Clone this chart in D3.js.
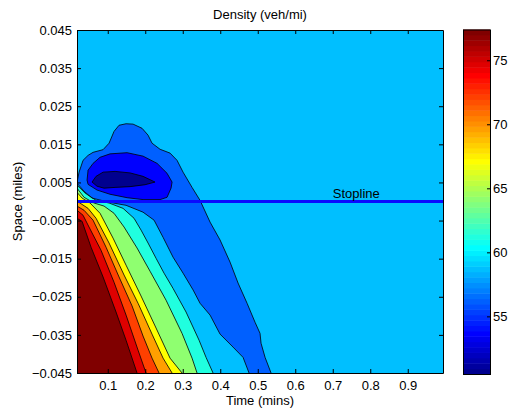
<!DOCTYPE html>
<meta charset="utf-8">
<style>
  body { margin: 0; background: #fff; }
  text { font-family: "Liberation Sans", Arial, sans-serif; }
</style>
<body>
<div id="chart"></div>
<script src="https://d3js.org/d3.v7.min.js"></script>
<script>

// band values (veh/mi); each filled band takes the colour of its value
var levels = [50.7, 53.6, 56.2, 58.7, 61.2, 64.0, 67.0, 69.6, 72.2, 74.7, 77.2];
var colorRange = [50.5, 77.4];
var timeRange = [0.018, 0.994];
var spaceRange = [-0.045, 0.045];
var xTicks = [0.1, 0.2, 0.3, 0.4, 0.5, 0.6, 0.7, 0.8, 0.9];
var yTicks = [-0.045, -0.035, -0.025, -0.015, -0.005, 0.005, 0.015, 0.025, 0.035, 0.045];
var cTicks = [55, 60, 65, 70, 75];
var stopline = 0, stoplineLabelT = 0.7;

// contour lines, [time (mins), space (miles)]
// low density pocket downstream of the stopline
var dipOuter = [[0.018,0.0050],[0.0235,0.0077],[0.0341,0.0108],[0.0475,0.0121],[0.0608,0.0129],[0.0875,0.0136],
  [0.1035,0.0153],[0.1168,0.0184],[0.1301,0.0200],[0.1488,0.0204],[0.1675,0.0203],[0.1915,0.0192],[0.2075,0.0174],
  [0.2181,0.0153],[0.2395,0.0137],[0.2661,0.0127],[0.2848,0.0108],[0.3008,0.0077],[0.3248,0.0037],[0.3461,0.0003],
  [0.3728,-0.0054],[0.3995,-0.0101],[0.4261,-0.0159],[0.4475,-0.0214],[0.4715,-0.0267],[0.4928,-0.0317],
  [0.5061,-0.0346],[0.5088,-0.0372],[0.5195,-0.0409],[0.5355,-0.045]];
var dipInner = [[0.018,0.0048],[0.0368,0.0027],[0.0581,0.0009],[0.1035,-0.0002],[0.1488,-0.0010],[0.1941,-0.0028],
  [0.2235,-0.0049],[0.2475,-0.0094],[0.2741,-0.0146],[0.3008,-0.0188],[0.3275,-0.0232],[0.3461,-0.0267],
  [0.3728,-0.0298],[0.3995,-0.0348],[0.4341,-0.0382],[0.4608,-0.0409],[0.4768,-0.045]];
var dipMid = [[0.0448,0.0056],[0.0475,0.0082],[0.0608,0.0100],[0.0795,0.0116],[0.1061,0.0125],[0.1515,0.0128],
  [0.1941,0.0119],[0.2315,0.0100],[0.2581,0.0074],[0.2715,0.0051],[0.2688,0.0035],[0.2581,0.0011],[0.2395,0.0005],
  [0.1941,0.0005],[0.1515,0.0010],[0.1061,0.0019],[0.0715,0.0030],[0.0475,0.0045]];
var dipCore = [[0.0581,0.0051],[0.0688,0.0066],[0.0875,0.0077],[0.1195,0.0079],[0.1595,0.0075],[0.1941,0.0066],
  [0.2261,0.0051],[0.1995,0.0044],[0.1595,0.0039],[0.1195,0.0037],[0.0901,0.0035],[0.0715,0.0040]];

// queue wedge upstream of the stopline, one line per level
var queue612 = [[0.018,0.0043],[0.0395,0.0022],[0.0688,0.0003],[0.1035,-0.0004],[0.1408,-0.0018],[0.1701,-0.0044],
  [0.1888,-0.0075],[0.2075,-0.0109],[0.2288,-0.0149],[0.2501,-0.0188],[0.2741,-0.0228],[0.3088,-0.0290],
  [0.3435,-0.0364],[0.3621,-0.0409],[0.3808,-0.045]];
var queue640 = [[0.018,0.0035],[0.0368,0.0011],[0.0635,-0.0004],[0.0901,-0.0012],[0.1168,-0.0031],[0.1435,-0.0067],
  [0.1781,-0.0122],[0.2128,-0.0183],[0.2555,-0.0259],[0.2981,-0.0346],[0.3248,-0.0411],[0.3381,-0.045]];
var queue670 = [[0.018,0.0024],[0.0315,0.0009],[0.0528,-0.0004],[0.0795,-0.0031],[0.1141,-0.0096],[0.1488,-0.0167],
  [0.1888,-0.0248],[0.2288,-0.0332],[0.2661,-0.0411],[0.2981,-0.045]];
var queue696 = [[0.018,0.0001],[0.0475,-0.0018],[0.0688,-0.0044],[0.1035,-0.0109],[0.1435,-0.0193],[0.1808,-0.0267],
  [0.2181,-0.0348],[0.2475,-0.0411],[0.2715,-0.045]];
var queue722 = [[0.018,-0.0012],[0.0368,-0.0023],[0.0608,-0.0049],[0.0955,-0.0120],[0.1301,-0.0198],[0.1648,-0.0274],
  [0.1941,-0.0353],[0.2181,-0.0411],[0.2368,-0.045]];
var queue747 = [[0.018,-0.0023],[0.0341,-0.0036],[0.0501,-0.0067],[0.0821,-0.0128],[0.1168,-0.0212],[0.1488,-0.0298],
  [0.1808,-0.0390],[0.2021,-0.045]];
var queue772 = [[0.018,-0.0044],[0.0315,-0.0052],[0.0555,-0.0120],[0.0875,-0.0198],[0.1221,-0.0290],[0.1488,-0.0364],
  [0.1781,-0.045]];
var queueLines = [queue612, queue640, queue670, queue696, queue722, queue747, queue772];

// MATLAB jet(64), i = 1..64
function jet(i) {
  var r = i <= 24 ? 0 : i <= 40 ? (i - 24) / 16 : i <= 55 ? 1 : (72 - i) / 16;
  var g = i <= 8 ? 0 : i <= 24 ? (i - 8) / 16 : i <= 39 ? 1 : i <= 55 ? (56 - i) / 16 : 0;
  var b = i <= 8 ? 0.5 + i / 16 : i <= 23 ? 1 : i <= 39 ? (40 - i) / 16 : 0;
  return d3.rgb(r * 255, g * 255, b * 255).toString();
}
function colorOf(v) {
  var i = Math.floor((v - colorRange[0]) / (colorRange[1] - colorRange[0]) * 64) + 1;
  return jet(Math.max(1, Math.min(64, i)));
}

var width = 510, height = 411;
var plot = {left: 77, right: 443, top: 30, bottom: 373};
var bar = {left: 463, right: 490};

var svg = d3.select("#chart").append("svg")
    .attr("width", width).attr("height", height)
    .style("display", "block");

var x = d3.scaleLinear().domain(timeRange).range([plot.left, plot.right]);
var y = d3.scaleLinear().domain(spaceRange).range([plot.bottom, plot.top]);
var line = d3.line().x(function(d) { return x(d[0]); }).y(function(d) { return y(d[1]); });
var ring = d3.line().x(function(d) { return x(d[0]); }).y(function(d) { return y(d[1]); })
    .curve(d3.curveLinearClosed);

svg.append("clipPath").attr("id", "clip").append("rect")
    .attr("x", plot.left).attr("y", plot.top)
    .attr("width", plot.right - plot.left).attr("height", plot.bottom - plot.top);

var g = svg.append("g").attr("clip-path", "url(#clip)");

// background band
g.append("rect")
    .attr("x", plot.left).attr("y", plot.top)
    .attr("width", plot.right - plot.left).attr("height", plot.bottom - plot.top)
    .attr("fill", colorOf(levels[3]));

// low density pocket, outside in
g.append("path").attr("d", ring(dipOuter.concat(dipInner.slice().reverse())))
    .attr("fill", colorOf(levels[2]));
g.append("path").attr("d", ring(dipMid)).attr("fill", colorOf(levels[1]));
g.append("path").attr("d", ring(dipCore)).attr("fill", colorOf(levels[0]));

// queue wedge, lowest level first
queueLines.forEach(function(pts, k) {
  g.append("path")
      .attr("d", ring(pts.concat([[timeRange[0], spaceRange[0]]])))
      .attr("fill", colorOf(levels[4 + k]));
});

// contour lines
var contourStyle = function(sel) {
  sel.attr("fill", "none").attr("stroke", "#000").attr("stroke-width", 0.8);
};
[dipOuter, dipInner].concat(queueLines).forEach(function(pts) {
  g.append("path").attr("d", line(pts)).call(contourStyle);
});
[dipMid, dipCore].forEach(function(pts) {
  g.append("path").attr("d", ring(pts)).call(contourStyle);
});

// stopline
g.append("line")
    .attr("x1", x(timeRange[0])).attr("x2", x(timeRange[1]))
    .attr("y1", y(stopline)).attr("y2", y(stopline))
    .attr("stroke", "#0a0aff").attr("stroke-width", 3);
svg.append("text")
    .attr("x", x(stoplineLabelT)).attr("y", y(stopline) - 3.5)
    .attr("font-size", 13).text("Stopline");

// axes, ticks pointing inwards on all four sides
function styleAxis(sel) {
  sel.attr("font-size", 13).attr("font-family", '"Liberation Sans", Arial, sans-serif');
  sel.selectAll("text").attr("fill", "#000");
}
var fmtX = d3.format(".1f"), fmtY = d3.format(".3f");
svg.append("g").attr("transform", "translate(0," + plot.bottom + ")")
    .call(d3.axisBottom(x).tickValues(xTicks).tickFormat(fmtX).tickSize(-4).tickSizeOuter(0).tickPadding(8))
    .call(styleAxis);
svg.append("g").attr("transform", "translate(0," + plot.top + ")")
    .call(d3.axisTop(x).tickValues(xTicks).tickFormat("").tickSize(-4).tickSizeOuter(0));
svg.append("g").attr("transform", "translate(" + plot.left + ",0)")
    .call(d3.axisLeft(y).tickValues(yTicks).tickFormat(fmtY).tickSize(-4).tickSizeOuter(0).tickPadding(5))
    .call(styleAxis);
svg.append("g").attr("transform", "translate(" + plot.right + ",0)")
    .call(d3.axisRight(y).tickValues(yTicks).tickFormat("").tickSize(-4).tickSizeOuter(0));

// labels
svg.append("text").attr("x", (plot.left + plot.right) / 2).attr("y", 19)
    .attr("text-anchor", "middle").attr("font-size", 13).text("Density (veh/mi)");
svg.append("text").attr("x", (plot.left + plot.right) / 2).attr("y", 405)
    .attr("text-anchor", "middle").attr("font-size", 13).text("Time (mins)");
svg.append("text")
    .attr("transform", "translate(22," + (plot.top + plot.bottom) / 2 + ") rotate(-90)")
    .attr("text-anchor", "middle").attr("font-size", 13).text("Space (miles)");

// colorbar
var cy = d3.scaleLinear().domain(colorRange).range([plot.bottom + 1, plot.top - 0.5]);
var step = (colorRange[1] - colorRange[0]) / 64;
svg.append("g").selectAll("rect")
    .data(d3.range(1, 65))
    .enter().append("rect")
    .attr("x", bar.left)
    .attr("width", bar.right - bar.left)
    .attr("y", function(i) { return cy(colorRange[0] + i * step); })
    .attr("height", function(i) { return cy(colorRange[0] + (i - 1) * step) - cy(colorRange[0] + i * step) + 0.5; })
    .attr("fill", function(i) { return jet(i); });
svg.append("g").attr("transform", "translate(" + bar.right + ",0)")
    .call(d3.axisRight(cy).tickValues(cTicks).tickFormat(d3.format("d")).tickSize(-3).tickSizeOuter(0).tickPadding(3))
    .call(styleAxis);
svg.append("rect")
    .attr("x", bar.left + 0.5).attr("y", cy(colorRange[1]) + 0.5)
    .attr("width", bar.right - bar.left).attr("height", cy(colorRange[0]) - cy(colorRange[1]))
    .attr("fill", "none").attr("stroke", "#000");

</script>
